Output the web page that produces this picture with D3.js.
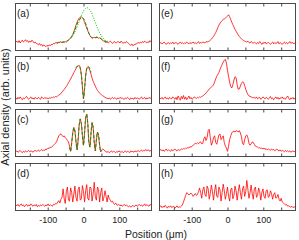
<!DOCTYPE html>
<html><head><meta charset="utf-8">
<script src="https://cdn.jsdelivr.net/npm/d3@7"></script>
<style>body{margin:0;background:#fff}svg{display:block}text{font-family:"Liberation Sans",Arial,sans-serif}</style>
</head><body>
<script>
// sampling grid (um)
const positions = d3.range(-189, 190, 3);
const tickValues = [-150, -100, -50, 0, 50, 100, 150];
const tickLabels = {"-100": "-100", "0": "0", "100": "100"};
const panelLabels = ["(a)", "(b)", "(c)", "(d)", "(e)", "(f)", "(g)", "(h)"];

const densA = [18,20,17,21,16,19,22,18,20,23,19,21,17,20,18,22,19,16,18,15,
 14,12,15,11,13,9,12,10,8,11,9,12,10,
 13,12,15,14,17,16,15,18,
 17,19,16,18,17,19,18,20,
 22,24,27,30,34,
 40,47,54,60,65,69,71,
 72,70,66,
 60,54,48,42,36,32,28,
 26,27,28,27,29,28,26,27,
 25,23,21,20,
 18,17,19,16,18,20,17,15,18,19,16,17,19,
 18,16,20,17,15,18,16,19,17,15,
 13,11,14,10,12,14,13,16,
 17,15,18,16,19,17,20,18,16,19,17,21,18];
const densB = [12,9,13,10,14,11,8,12,10,13,15,11,9,12,14,10,12,9,13,11,
 10,13,11,9,14,12,10,13,11,12,10,
 12,11,13,12,14,13,15,14,
 16,18,19,22,24,27,30,
 33,36,40,44,48,52,57,61,66,70,
 74,78,80,81,
 77,62,35,10,
 30,60,75,78,76,70,
 62,54,47,42,37,32,28,25,22,
 20,18,16,15,13,12,
 11,10,12,9,11,13,10,12,11,9,12,10,13,11,12,10,
 9,12,10,13,11,8,12,10,11,9,13,10,12,11,9,12,14,10,11,13,9,12,10,13,11,12];
const densC = [10,12,9,11,13,10,8,11,9,12,10,11,13,10,12,11,9,12,13,11,
 12,14,11,13,15,12,14,13,16,
 15,18,17,20,19,22,24,26,28,
 32,38,44,47,48,45,
 42,44,40,38,34,31,
 22,11,30,50,62,55,32,14,35,68,80,70,45,24,50,82,90,70,30,20,50,72,62,30,12,35,52,45,25,10,14,16,14,
 12,10,9,11,8,10,12,9,11,10,8,11,9,12,10,9,11,8,10,12,9,11,10,8,12,10,11,9,12,10,
 11,13,10,12,14,11,13,12,15,12,14,13,11,14];
const densD = [12,10,13,9,11,14,10,12,8,11,13,9,12,10,14,11,9,12,10,13,8,11,9,12,10,13,11,9,12,10,14,
 10,12,11,9,13,12,15,14,18,21,
 16,24,
 28,46,25,15,40,50,22,20,48,38,18,35,52,28,20,45,50,22,25,53,40,18,42,55,26,22,50,48,20,35,60,30,22,50,45,18,38,48,20,28,42,30,18,33,25,
 22,18,20,15,13,16,12,11,13,10,12,9,11,13,10,12,9,8,10,7,9,11,8,10,12,9,11,13,10,12,9,11,14,10,12,11,9,13,11];
const densE = [15,17,14,16,18,15,13,16,17,14,16,15,18,14,16,17,15,13,16,18,15,17,14,16,15,18,16,14,17,15,16,18,15,17,14,16,19,15,17,16,18,17,16,19,18,
 19,20,22,24,27,30,
 34,38,43,49,54,58,
 61,64,66,67,69,71,
 73,76,72,66,
 60,55,50,45,41,37,
 33,30,27,25,23,21,20,19,
 18,20,17,16,19,17,15,18,16,14,17,15,19,16,13,17,15,18,14,16,17,15,13,16,18,14,17,15,16,19,14,17,15,13,16,18,15,17,14,16,19,15,17,16,14,17];
const densF = [12,10,13,9,11,14,10,12,9,13,11,10,14,12,9,
 13,8,16,11,7,15,10,17,9,14,8,12,16,10,13,9,11,14,12,
 11,13,12,14,13,15,16,
 18,20,22,25,28,31,
 33,35,37,40,46,52,58,
 62,66,72,78,83,88,
 92,94,86,
 70,58,45,36,33,
 40,50,57,55,40,
 30,31,37,43,46,45,38,
 30,24,19,16,15,14,13,
 12,13,11,14,10,12,13,9,11,14,12,10,13,11,9,12,15,10,12,8,11,14,10,13,9,12,11,14,10,12,9,13,16,11,8,12,10,13,9,12];
const densG = [13,15,12,14,11,13,16,12,14,13,11,15,12,14,16,13,12,15,13,14,16,15,17,
 16,18,17,19,18,21,20,22,
 24,26,28,27,29,27,
 30,31,27,28,38,42,34,40,55,58,40,24,30,40,44,30,26,36,46,48,36,40,44,30,22,18,11,22,36,44,50,53,54,52,
 55,54,52,55,50,42,28,25,36,44,46,40,28,24,27,
 31,30,26,22,21,20,18,19,17,18,
 16,18,15,17,14,16,15,13,16,14,15,12,14,16,13,12,14,11,13,12,10,13,11,12,10,12,9,11,12,10,11];
const densH = [8,10,6,9,7,11,8,5,9,7,10,6,8,9,5,7,10,6,8,7,9,12,
 18,25,32,38,36,33,35,
 37,34,30,33,36,32,34,
 40,48,38,26,44,50,34,30,52,46,
 24,36,54,40,22,42,55,30,28,50,
 44,20,38,56,42,24,36,50,30,20,
 44,48,25,32,52,42,22,40,55,38,
 24,46,52,30,40,64,45,26,38,54,
 36,24,46,50,28,32,48,40,22,38,
 46,30,26,42,44,28,30,42,36,24,
 34,38,26,28,34,24,20,26,18,16,
 14,12,13,9,10,8,7,9,6,8,7];

// fits (green)
const fitAx = [-35,-30,-25,-20,-15,-10,-5,0,5,10,15,20,25,30,35,40,45,50,55,60,65,70];
const fitAdotted = [26,31,38,46,56,66,76,84,89,91,89,84,76,66,56,46,38,31,26,22,20,18.5];
const fitAx2 = [-75,-70,-65,-60,-55,-50,-45,-40,-35,-30,-25,-20,-15,-10,-5,0,5,10,15,20,25,30,35,40,45,50,55,60,65,70];
const fitAdashed = [17,17,17.5,18,18.5,19.5,21,23,27,33,42,52,61,67,70,68,60,48,37,30,27,27,27.5,27.5,27,25,22,20,18.5,18];
const fitBx = [-22,-18,-15,-12,-9,-6,-3,0,3,6,9,12,15,18,21];
const fitBdashed = [76,79,80,79,74,60,35,10,32,58,73,78,78,74,66];
const fitCx = [-39,-36,-33,-30,-27,-24,-21,-18,-15,-12,-9,-6,-3,0,3,6,9,12,15,18,21,24,27,30,33,36,39,42,45,48,51];
const fitCdashed = [20,11,28,50,61,54,32,14,36,67,80,70,44,24,50,81,90,70,32,20,50,72,61,30,12,35,52,45,24,10,13];

const panels = [densA, densB, densC, densD, densE, densF, densG, densH];

const W = 299, H = 240;
const svg = d3.select("body").append("svg").attr("width", W).attr("height", H);
const cols = [[15.5, 151.5], [159.5, 295.5]];
const tops = [3.5, 56.5, 109.5, 163.5];
const ph = 47;
const frameColor = "#4a4a4a";

const lineGen = (x, y) => d3.line().x(d => x(d[0])).y(d => y(d[1]));

panels.forEach((vals, k) => {
  const col = Math.floor(k / 4), row = k % 4;
  const [x0, x1] = cols[col];
  const top = tops[row], bot = top + ph;
  const x = d3.scaleLinear().domain([-190, 190]).range([x0, x1]);
  const y = d3.scaleLinear().domain([0, 100]).range([bot, top]);
  const g = svg.append("g");
  const clipId = "clip" + k;
  svg.append("clipPath").attr("id", clipId).append("rect")
    .attr("x", x0).attr("y", top).attr("width", x1 - x0).attr("height", ph);
  const cg = g.append("g").attr("clip-path", `url(#${clipId})`);
  cg.append("path").datum(positions.map((p, i) => [p, vals[i]]))
    .attr("d", lineGen(x, y)).attr("fill", "none")
    .attr("stroke", "#ff0000").attr("stroke-width", 0.8).attr("stroke-linejoin", "round");
  if (k === 0) {
    cg.append("path").datum(fitAx2.map((p, i) => [p, fitAdashed[i]]))
      .attr("d", lineGen(x, y).curve(d3.curveCatmullRom)).attr("fill", "none")
      .attr("stroke", "#009900").attr("stroke-width", 1).attr("stroke-dasharray", "3,2");
    cg.append("path").datum(fitAx.map((p, i) => [p, fitAdotted[i]]))
      .attr("d", lineGen(x, y).curve(d3.curveCatmullRom)).attr("fill", "none")
      .attr("stroke", "#00cc00").attr("stroke-width", 1).attr("stroke-dasharray", "1,1.5");
  }
  if (k === 1) {
    cg.append("path").datum(fitBx.map((p, i) => [p, fitBdashed[i]]))
      .attr("d", lineGen(x, y).curve(d3.curveCatmullRom)).attr("fill", "none")
      .attr("stroke", "#009900").attr("stroke-width", 1).attr("stroke-dasharray", "3,2");
  }
  if (k === 2) {
    cg.append("path").datum(fitCx.map((p, i) => [p, fitCdashed[i]]))
      .attr("d", lineGen(x, y).curve(d3.curveCatmullRom)).attr("fill", "none")
      .attr("stroke", "#009900").attr("stroke-width", 1).attr("stroke-dasharray", "3,2");
  }
  // axes (inward ticks, top and bottom)
  const axB = d3.axisBottom(x).tickValues(tickValues).tickSizeInner(-3).tickSizeOuter(0)
    .tickFormat(d => (row === 3 && tickLabels[String(d)] !== undefined) ? tickLabels[String(d)] : "");
  const gb = g.append("g").attr("transform", `translate(0,${bot})`).call(axB);
  gb.select(".domain").remove();
  gb.selectAll("line").attr("stroke", frameColor);
  gb.selectAll("text").attr("font-size", 9).attr("fill", "#222").attr("dy", "1.05em")
    .attr("font-family", '"Liberation Sans",Arial,sans-serif');
  const axT = d3.axisTop(x).tickValues(tickValues).tickSizeInner(-3).tickSizeOuter(0).tickFormat("");
  const gt = g.append("g").attr("transform", `translate(0,${top})`).call(axT);
  gt.select(".domain").remove();
  gt.selectAll("line").attr("stroke", frameColor);
  g.append("rect").attr("x", x0).attr("y", top).attr("width", x1 - x0).attr("height", ph)
    .attr("fill", "none").attr("stroke", frameColor).attr("stroke-width", 1);
  g.append("text").attr("x", x0 + 1.5).attr("y", top + 13.5).attr("font-size", 10)
    .attr("fill", "#222").text(panelLabels[k]);
});

svg.append("text").attr("transform", "translate(9,107) rotate(-90)")
  .attr("text-anchor", "middle").attr("font-size", 11).attr("fill", "#222")
  .text("Axial density (arb. units)");
svg.append("text").attr("x", 156).attr("y", 237.5).attr("text-anchor", "middle")
  .attr("font-size", 10.5).attr("fill", "#222").text("Position (μm)");
</script>
</body></html>
